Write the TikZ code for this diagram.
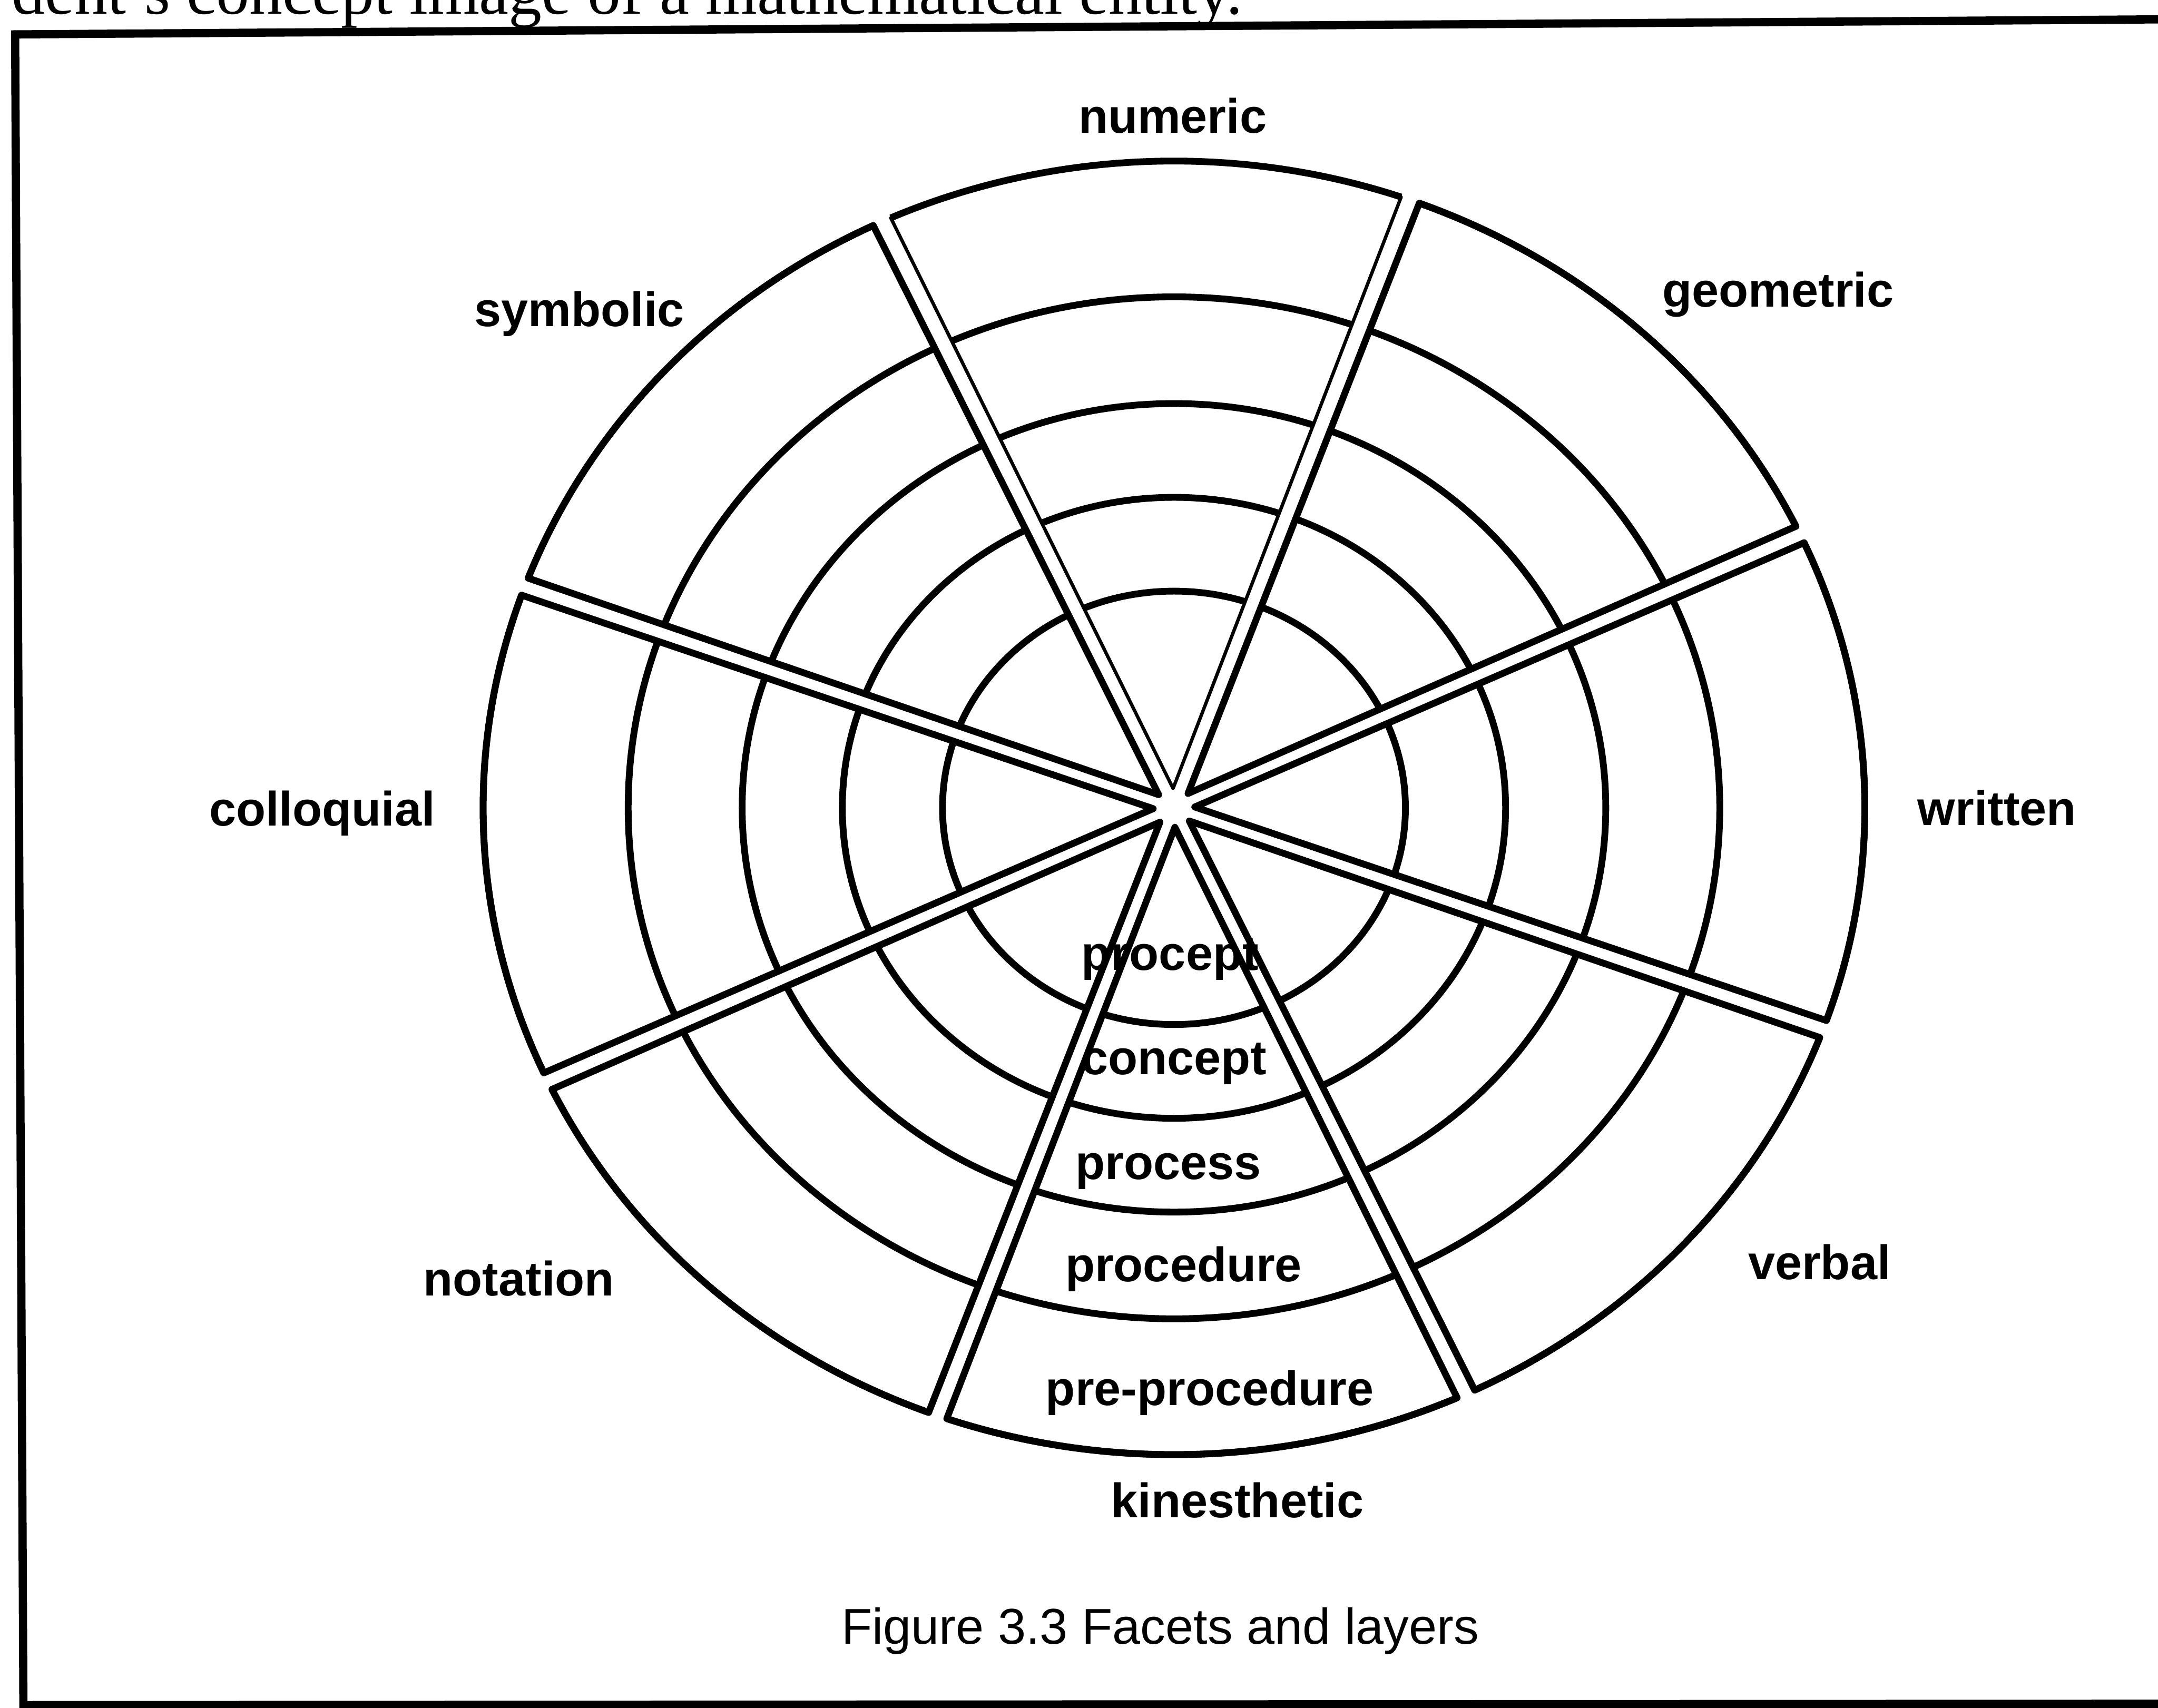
\documentclass[tikz,border=0pt]{standalone}
\usepackage{fontspec}
\setmainfont{Liberation Serif}
\setsansfont{Liberation Sans}

\tikzset{
  facet/.style={line width=1.4pt, line join=round},
  layer/.style={line width=1.4pt},
  facetlabel/.style={font=\sffamily\bfseries\fontsize{10}{12}\selectfont, inner sep=0pt},
}

\begin{document}
\begin{tikzpicture}[x=0.1mm,y=0.1mm,yscale=-1]
\useasboundingbox (0,0) rectangle (1568,1241);

% last line of the text above, cut by the page
\node[anchor=base west, inner sep=0pt, font=\fontsize{13.7}{16}\selectfont] (bodytext) at (8,10) {dent's concept image of a mathematical entity.};

% frame
\draw[line width=1.7pt, line join=miter] (1580,14) -- (11,25) -- (17,1239) -- (1580,1238);

% wheel: 8 facets, each cut into 5 layers
\begin{scope}[shift={(853,587)}, yscale=-1, x=50.2mm, y=47mm]
  \foreach \k/\ew in {0/0.7, 1/1.4, 2/1.4, 3/1.4, 4/1.4, 5/1.4, 6/1.4, 7/1.4} {
    \pgfmathsetmacro\a{115-45*\k}
    \pgfmathsetmacro\m{\a-22.5}
    \pgfmathsetmacro\s{\a-45+0.8}
    \pgfmathsetmacro\e{\a-0.8}
    \begin{scope}
      \clip (\m:0.03) -- (\s:1) arc[start angle=\s, end angle=\e, radius=1] -- cycle;
      \foreach \r in {0.335, 0.48, 0.625, 0.79}
        \draw[layer] (0,0) circle[radius=\r];
    \end{scope}
    \draw[facet, line width=\ew pt] (\m:0.03) -- (\s:1) arc[start angle=\s, end angle=\e, radius=1] -- cycle;
    \draw[facet] (\s:1) arc[start angle=\s, end angle=\e, radius=1];
  }
\end{scope}

% facets
\node[facetlabel] (numeric) at (852,84) {numeric};
\node[facetlabel] (geometric) at (1292,214) {geometric};
\node[facetlabel] (written) at (1451,587) {written};
\node[facetlabel] (verbal) at (1322,917) {verbal};
\node[facetlabel] (kinesthetic) at (899,1090) {kinesthetic};
\node[facetlabel] (notation) at (377,929) {notation};
\node[facetlabel] (colloquial) at (234,591) {colloquial};
\node[facetlabel] (symbolic) at (421,228) {symbolic};

% layers
\node[facetlabel] (procept) at (850,697) {procept};
\node[facetlabel] (concept) at (853,773) {concept};
\node[facetlabel] (process) at (849,851) {process};
\node[facetlabel] (procedure) at (860,922) {procedure};
\node[facetlabel] (preprocedure) at (879,1012) {pre-procedure};

\node[font=\sffamily\fontsize{10.4}{12}\selectfont, inner sep=0pt] (caption) at (843,1185) {Figure 3.3 Facets and layers};

\end{tikzpicture}
\end{document}
